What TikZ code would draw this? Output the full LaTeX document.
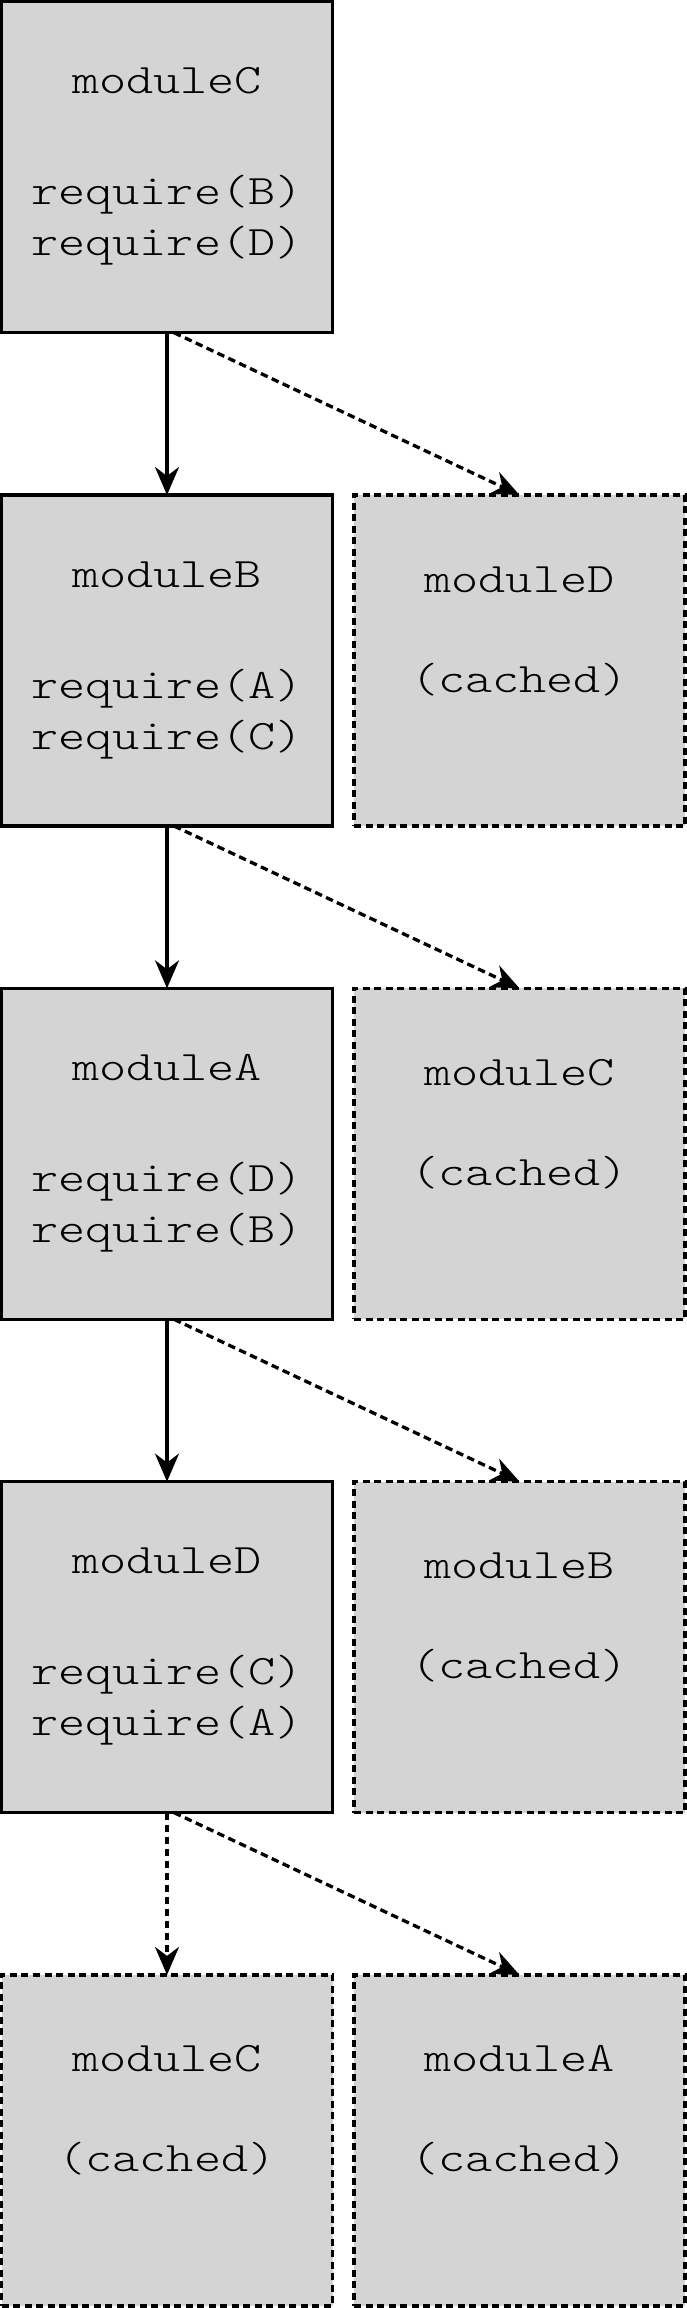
\documentclass[tikz,border=0pt]{standalone}
\usepackage{fontspec}
\newfontfamily\boxfont{lmmonolt10-regular.otf}[FakeStretch=1.23]
\usetikzlibrary{arrows.meta,calc}
\definecolor{boxgray}{RGB}{212,212,212}
\newcommand\mkline[1]{\hbox to\hsize{\hss\smash{#1}\hss}}
\newcommand\solidtext[3]{\vbox to 331pt{\hsize=331pt\offinterlineskip\boxfont\fontsize{42pt}{50pt}\selectfont
 \vskip92pt\mkline{#1}\vskip111pt\mkline{#2}\vskip51pt\mkline{#3}\vfil}}
\newcommand\cachedtext[1]{\vbox to 331pt{\hsize=331pt\offinterlineskip\boxfont\fontsize{42pt}{50pt}\selectfont
 \vskip97pt\mkline{#1}\vskip100pt\mkline{(cached)}\vfil}}
\tikzset{
 modbox/.style={draw, fill=boxgray, line width=3.4pt, inner sep=0pt, outer sep=0pt, minimum width=331pt, minimum height=331pt},
 cachedbox/.style={modbox, dash pattern=on 7pt off 4.5pt},
 dep/.style={line width=3.3pt, -{Stealth[length=28pt,width=24pt,inset=9pt]}},
 cdep/.style={dep, dash pattern=on 7.5pt off 4.5pt}
}
\begin{document}
\begin{tikzpicture}[x=1pt,y=-1pt]
\useasboundingbox (0,0) rectangle (687,2308);
\node[modbox] (b1) at (167,167.2) {\solidtext{moduleC}{require(B)}{require(D)}};
\node[modbox] (b2) at (167,660.5) {\solidtext{moduleB}{require(A)}{require(C)}};
\node[cachedbox] (r2) at (519.5,660.5) {\cachedtext{moduleD}};
\node[modbox] (b3) at (167,1153.8) {\solidtext{moduleA}{require(D)}{require(B)}};
\node[cachedbox] (r3) at (519.5,1153.8) {\cachedtext{moduleC}};
\node[modbox] (b4) at (167,1647.1) {\solidtext{moduleD}{require(C)}{require(A)}};
\node[cachedbox] (r4) at (519.5,1647.1) {\cachedtext{moduleB}};
\node[cachedbox] (l5) at (167,2140.4) {\cachedtext{moduleC}};
\node[cachedbox] (r5) at (519.5,2140.4) {\cachedtext{moduleA}};
\draw[dep] (b1.south) -- (b2.north);
\draw[cdep] ($(b1.south)+(7,0)$) -- (r2.north);
\draw[dep] (b2.south) -- (b3.north);
\draw[cdep] ($(b2.south)+(7,0)$) -- (r3.north);
\draw[dep] (b3.south) -- (b4.north);
\draw[cdep] ($(b3.south)+(7,0)$) -- (r4.north);
\draw[cdep] (b4.south) -- (l5.north);
\draw[cdep] ($(b4.south)+(7,0)$) -- (r5.north);
\end{tikzpicture}
\end{document}
